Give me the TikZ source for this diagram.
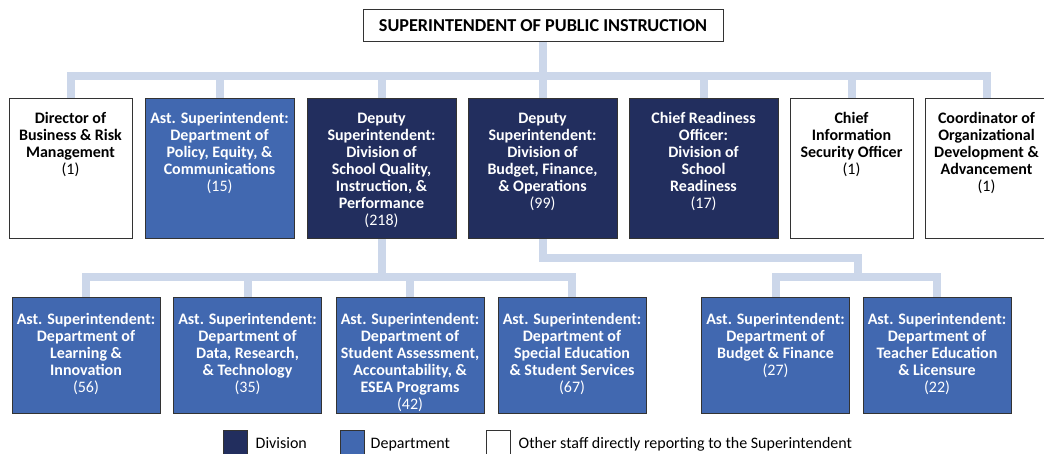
\documentclass[tikz,border=0pt]{standalone}
\usepackage{fontspec}
\setmainfont{Carlito}
\usetikzlibrary{positioning}
\definecolor{divnavy}{RGB}{34,46,94}
\definecolor{deptblue}{RGB}{65,104,176}
\definecolor{linkblue}{RGB}{204,215,234}
\newcommand{\staffcount}[1]{{\mdseries(#1)}}

\begin{document}
\begin{tikzpicture}[x=1pt, y=-1pt,
  orgbox/.style={draw=black!80, line width=1pt, minimum height=140pt, inner sep=0pt},
  narrowbox/.style={orgbox, minimum width=123pt, fill=white},
  widebox/.style={orgbox, minimum width=149pt},
  subbox/.style={orgbox, minimum width=148pt, minimum height=115pt, fill=deptblue},
  boxtext/.style={anchor=north, yshift=-14pt, align=center, inner sep=0pt, font=\bfseries\fontsize{16}{17}\selectfont},
  link/.style={draw=linkblue, line width=8pt},
  keybox/.style={draw=black!80, line width=1pt, minimum size=24pt, inner sep=0pt},
  keytext/.style={anchor=west, inner sep=0pt, text height=12pt, text depth=0pt, font=\fontsize{16}{17}\selectfont}
]
  \useasboundingbox (0,0) rectangle (1044,454);

  % Superintendent
  \node[draw=black!80, line width=1pt, minimum width=360pt, minimum height=32pt, inner sep=0pt, font=\bfseries\fontsize{18.2}{20}\selectfont] (sup) at (543,26) {SUPERINTENDENT OF PUBLIC INSTRUCTION};

  % First row: direct reports
  \node[narrowbox, label={[boxtext]north:{Director of\\Business \& Risk\\Management\\\staffcount{1}}}] (dbr) at (70.5,169) {};
  \node[widebox, fill=deptblue, label={[boxtext, text=white]north:{Ast. Superintendent:\\Department of\\Policy, Equity, \&\\Communications\\\staffcount{15}}}] (pec) at (219.5,169) {};
  \node[widebox, fill=divnavy, label={[boxtext, text=white]north:{Deputy\\Superintendent:\\Division of\\School Quality,\\Instruction, \&\\Performance\\\staffcount{218}}}] (sqi) at (381.5,169) {};
  \node[widebox, fill=divnavy, label={[boxtext, text=white]north:{Deputy\\Superintendent:\\Division of\\Budget, Finance,\\\& Operations\\\staffcount{99}}}] (bfo) at (542.5,169) {};
  \node[widebox, fill=divnavy, label={[boxtext, text=white]north:{Chief Readiness\\Officer:\\Division of\\School\\Readiness\\\staffcount{17}}}] (sro) at (703.5,169) {};
  \node[narrowbox, label={[boxtext]north:{Chief\\Information\\Security Officer\\\staffcount{1}}}] (iso) at (851.5,169) {};
  \node[narrowbox, label={[boxtext]north:{Coordinator of\\Organizational\\Development \&\\Advancement\\\staffcount{1}}}] (oda) at (986.5,169) {};

  % Second row: departments
  \node[subbox, label={[boxtext, yshift=-2pt, text=white]north:{Ast. Superintendent:\\Department of\\Learning \&\\Innovation\\\staffcount{56}}}] (lin) at (86,355.5) {};
  \node[subbox, label={[boxtext, yshift=-2pt, text=white]north:{Ast. Superintendent:\\Department of\\Data, Research,\\\& Technology\\\staffcount{35}}}] (drt) at (247.5,355.5) {};
  \node[subbox, label={[boxtext, yshift=-2pt, text=white]north:{Ast. Superintendent:\\Department of\\Student Assessment,\\Accountability, \&\\ESEA Programs\\\staffcount{42}}}] (saa) at (410,355.5) {};
  \node[subbox, label={[boxtext, yshift=-2pt, text=white]north:{Ast. Superintendent:\\Department of\\Special Education\\\& Student Services\\\staffcount{67}}}] (ses) at (572,355.5) {};
  \node[subbox, label={[boxtext, yshift=-2pt, text=white]north:{Ast. Superintendent:\\Department of\\Budget \& Finance\\\staffcount{27}}}] (bgf) at (775.5,355.5) {};
  \node[subbox, label={[boxtext, yshift=-2pt, text=white]north:{Ast. Superintendent:\\Department of\\Teacher Education\\\& Licensure\\\staffcount{22}}}] (tel) at (937,355.5) {};

  % Connectors
  \foreach \c in {dbr,pec,sqi,bfo,sro,iso,oda}
    \draw[link] (sup.south) -- ++(0,34) -| (\c.north);
  \foreach \c in {lin,drt,saa,ses}
    \draw[link] (sqi.south) -- ++(0,38) -| (\c.north);
  \coordinate (bfoturn) at (858,277);
  \foreach \c in {bgf,tel}
    \draw[link] (bfo.south) -- ++(0,19) -| (bfoturn) -| (\c.north);

  % Legend
  \node[keybox, fill=divnavy] (keydiv) at (235,442) {};
  \node[keytext, right=8pt of keydiv] (keydivt) {Division};
  \node[keybox, fill=deptblue] (keydep) at (352,442) {};
  \node[keytext, right=6pt of keydep] (keydept) {Department};
  \node[keybox, fill=white] (keyoth) at (498,442) {};
  \node[keytext, right=8pt of keyoth] (keyotht) {Other staff directly reporting to the Superintendent};
\end{tikzpicture}
\end{document}
